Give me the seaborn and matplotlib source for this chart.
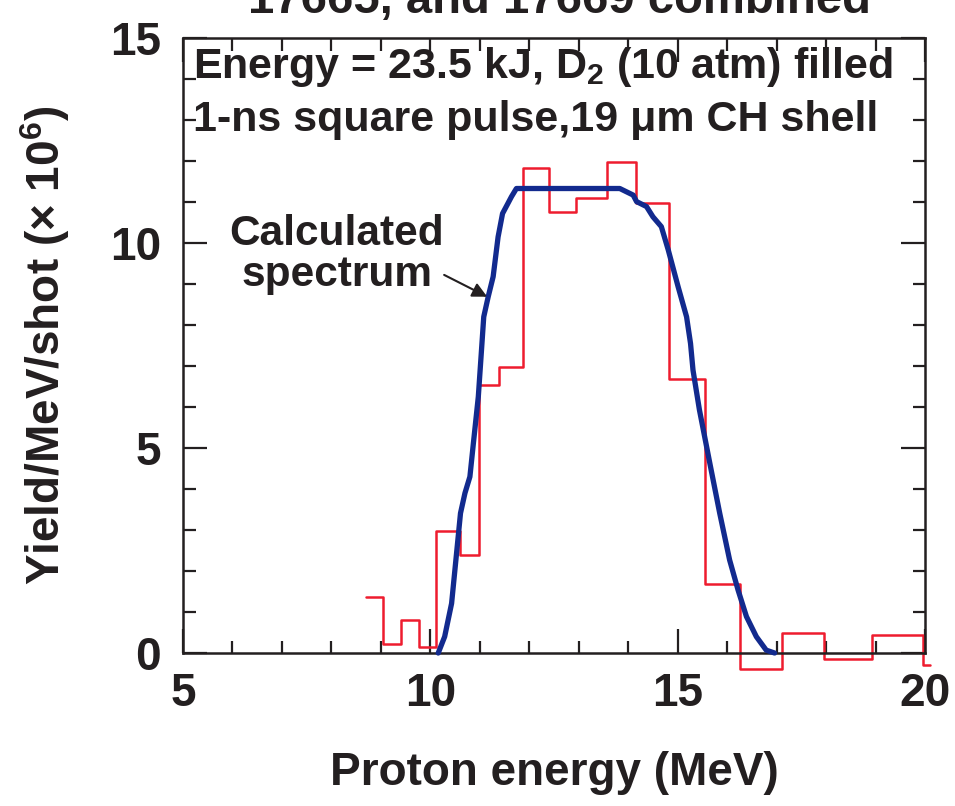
import matplotlib
matplotlib.use('Agg')
import matplotlib.pyplot as plt
import seaborn as sns
from matplotlib.ticker import MultipleLocator

# Measured proton spectrum (histogram bin edges and heights, x 10^6 /MeV/shot)
bin_edges = [8.70, 9.04, 9.40, 9.77, 10.11, 10.60, 10.98, 11.38, 11.87, 12.39,
             12.94, 13.57, 14.15, 14.82, 15.55, 16.25, 17.10, 17.95, 18.92, 19.95, 20.10]
bin_yield = [1.37, 0.22, 0.80, 0.15, 2.98, 2.40, 6.54, 6.97, 11.83, 10.76,
             11.10, 11.98, 10.98, 6.68, 1.68, -0.40, 0.50, -0.15, 0.45, -0.30]

# Calculated spectrum
calc_energy = [10.16, 10.29, 10.43, 10.53, 10.61, 10.70, 10.80, 10.87, 10.97, 11.03,
               11.08, 11.17, 11.27, 11.37, 11.46, 11.57, 11.64, 11.74, 13.83, 14.10,
               14.17, 14.37, 14.50, 14.67, 14.81, 15.01, 15.18, 15.26, 15.31, 15.44,
               15.65, 15.85, 16.05, 16.22, 16.39, 16.59, 16.79, 16.96]
calc_yield = [0.00, 0.40, 1.21, 2.43, 3.41, 3.90, 4.30, 5.11, 6.25, 7.31,
              8.20, 8.69, 9.18, 10.15, 10.72, 10.97, 11.13, 11.33, 11.33, 11.17,
              11.01, 10.89, 10.64, 10.40, 9.83, 8.93, 8.20, 7.55, 6.90, 5.93,
              4.63, 3.41, 2.27, 1.54, 0.89, 0.40, 0.07, 0.00]

sns.set_style('ticks')
plt.rcParams['font.family'] = ['Liberation Sans', 'DejaVu Sans']
plt.rcParams['font.weight'] = 'bold'
plt.rcParams['mathtext.fontset'] = 'custom'
plt.rcParams['mathtext.rm'] = 'Liberation Sans:bold'
plt.rcParams['mathtext.it'] = 'Liberation Sans:bold'
plt.rcParams['mathtext.bf'] = 'Liberation Sans:bold'

ink = '#231f20'
red = '#ee1c2e'
blue = '#122a8e'

fig = plt.figure(figsize=(9.55, 8.06), dpi=100)
ax = fig.add_axes([0.1916, 0.1898, 0.777, 0.763])

step_y = bin_yield + [bin_yield[-1]]
sns.lineplot(x=bin_edges, y=step_y, ax=ax, drawstyle='steps-post', color=red,
             linewidth=1.8, estimator=None, sort=False, clip_on=False, zorder=2)
sns.lineplot(x=calc_energy, y=calc_yield, ax=ax, color=blue, linewidth=3.8,
             estimator=None, sort=False, clip_on=False, zorder=3,
             solid_joinstyle='round', solid_capstyle='round')

ax.set_xlim(5, 20)
ax.set_ylim(0, 15)
ax.xaxis.set_major_locator(MultipleLocator(5))
ax.xaxis.set_minor_locator(MultipleLocator(1))
ax.yaxis.set_major_locator(MultipleLocator(5))
ax.yaxis.set_minor_locator(MultipleLocator(1))
ax.tick_params(which='both', direction='in', top=True, right=True, width=1.6,
               color=ink)
ax.tick_params(which='major', length=17)
ax.tick_params(which='minor', length=9)
ax.tick_params(axis='x', which='major', pad=14, labelsize=33, labelcolor=ink)
ax.tick_params(axis='y', which='major', pad=16, labelsize=33, labelcolor=ink)
for s in ax.spines.values():
    s.set_linewidth(1.8)
    s.set_color(ink)

ax.set_xlabel('Proton energy (MeV)', fontsize=33, fontweight='bold', color=ink,
              labelpad=25)
ax.set_ylabel('Yield/MeV/shot (\u00d7 10$^{6}$)', fontsize=33, fontweight='bold',
              color=ink, labelpad=27)

ax.text(5.2, 14.3, 'Energy = 23.5 kJ, D$_{2}$ (10 atm) filled', fontsize=31,
        fontweight='bold', color=ink, va='center', ha='left')
ax.text(5.2, 13.0, '1-ns square pulse,19 \u03bcm CH shell', fontsize=31,
        fontweight='bold', color=ink, va='center', ha='left')

ax.annotate('Calculated\nspectrum', xy=(11.15, 8.69), xytext=(8.11, 9.72),
            fontsize=30.5, fontweight='bold', color=ink, ha='center', va='center',
            linespacing=1.05,
            arrowprops=dict(arrowstyle='-|>', color=ink, lw=1.5,
                            mutation_scale=22, shrinkA=0, shrinkB=0,
                            patchA=None, relpos=(1.0, 0.25)))

fig.text(0.586, 1 - 13 / 806, '17665, and 17669 combined', fontsize=34,
         fontweight='bold', color=ink, ha='center', va='baseline')

fig.savefig('out.png', dpi=100)
